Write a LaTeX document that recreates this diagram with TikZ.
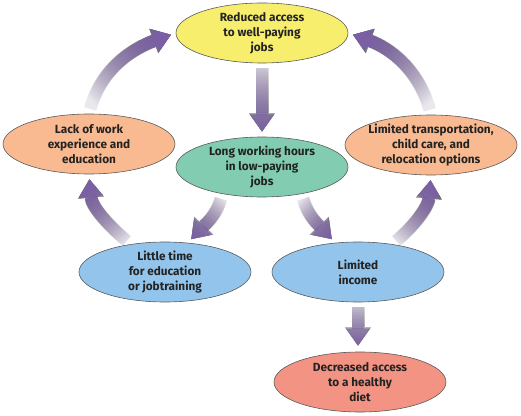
\documentclass[tikz,border=0pt]{standalone}
\usepackage{fontspec}
\setsansfont{Fira Sans}
\usetikzlibrary{shapes.geometric,arrows.meta,fadings}

\definecolor{jobyellow}{HTML}{F6EE6C}
\definecolor{lackorange}{HTML}{F9BA91}
\definecolor{longgreen}{HTML}{82CDB2}
\definecolor{timeblue}{HTML}{93C5EC}
\definecolor{dietred}{HTML}{F39383}
\definecolor{flowpurple}{HTML}{7B5EA7}
\definecolor{labelgray}{HTML}{232323}

\tikzfading[name=flowfade, top color=transparent!92, bottom color=transparent!0]

\tikzset{
  cause/.style={ellipse, draw=black!65, line width=0.6pt, minimum width=172pt, minimum height=60pt,
    inner xsep=-10pt, inner ysep=0pt, align=center, text=labelgray,
    font=\sffamily\bfseries\fontsize{11.8}{15}\selectfont},
  flow/.style={draw=flowpurple, line width=12pt, -{Triangle[width=24pt,length=17pt,line width=0.4pt]},
    shorten <=5pt, shorten >=5pt, path fading=flowfade,
    preaction={draw=black!60, line width=13pt, path fading=flowfade,
      -{Triangle[width=26pt,length=18.4pt,line width=0.4pt]}}},
}

\begin{document}
\begin{tikzpicture}[x=1pt,y=1pt]

\useasboundingbox (0,0) rectangle (521,415);

\node[cause, fill=jobyellow] (reduced) at (262,382) {Reduced access\\to well-paying\\jobs};
\node[cause, fill=lackorange] (lack) at (89,271) {Lack of work\\experience and\\education};
\node[cause, fill=lackorange] (transport) at (431,270) {Limited transportation,\\child care, and\\relocation options};
\node[cause, fill=longgreen] (long) at (262,248) {Long working hours\\in low-paying\\jobs};
\node[cause, fill=timeblue] (little) at (165,143) {Little time\\for education\\or jobtraining};
\node[cause, fill=timeblue] (income) at (358,143) {Limited\\income};
\node[cause, fill=dietred] (diet) at (360,33) {Decreased access\\to a healthy\\diet};

% round the loop
\draw[flow] (reduced.south) -- (long.north);
\draw[flow, fading angle=-34] (long.-146) to[out=255, in=47] (little.52);
\draw[flow, fading angle=38] (long.-34) to[out=285, in=133] (income.128);
\draw[flow, fading angle=-150] (little.141) to[out=140, in=-85] (lack.south);
\draw[flow, fading angle=150] (income.39) to[out=40, in=-95] (transport.south);
\draw[flow, fading angle=133] (lack.north) to[out=75, in=200] (reduced.west);
\draw[flow, fading angle=-134] (transport.north) to[out=105, in=-20] (reduced.east);

% way out of the loop
\draw[flow, shorten >=6pt] (income.south) -- (income.south |- diet.north);

\end{tikzpicture}
\end{document}
